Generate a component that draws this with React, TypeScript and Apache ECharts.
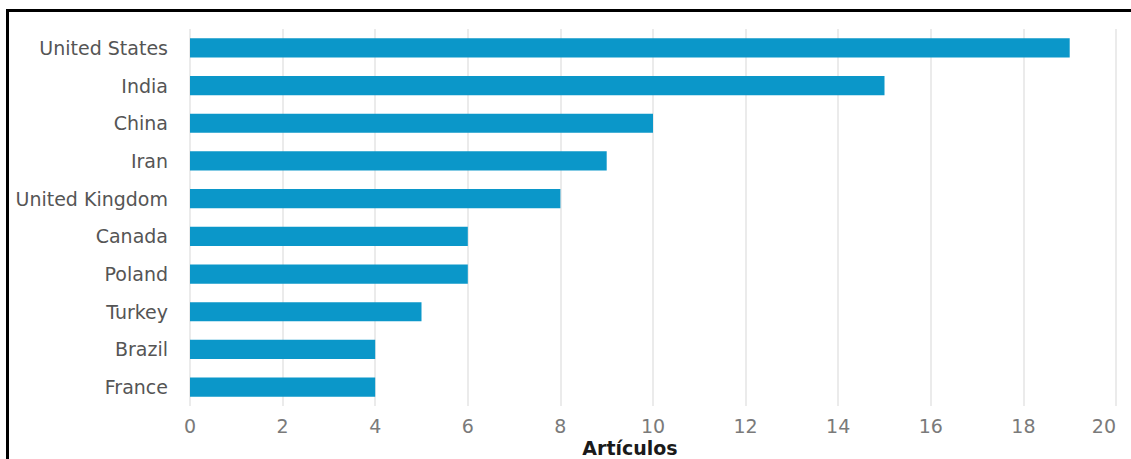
import React, { useEffect, useRef } from "react";
import * as echarts from "echarts";

const countries = [
  "United States",
  "India",
  "China",
  "Iran",
  "United Kingdom",
  "Canada",
  "Poland",
  "Turkey",
  "Brazil",
  "France",
];
const articles = [19, 15, 10, 9, 8, 6, 6, 5, 4, 4];
const axisTitle = "Artículos";

export default function App() {
  const ref = useRef<HTMLDivElement>(null);
  useEffect(() => {
    document.body.style.margin = "0";
    const chart = echarts.init(ref.current!, null, { renderer: "svg" });
    chart.setOption({
      animation: false,
      backgroundColor: "#ffffff",
      grid: { left: 190, right: 15, top: 29, bottom: 53, containLabel: false },
      xAxis: {
        type: "value",
        min: 0,
        max: 20,
        interval: 2,
        axisLine: { show: false },
        axisTick: { show: false },
        splitLine: { show: true, lineStyle: { color: "#e4e4e4", width: 1.5 } },
        axisLabel: {
          color: "#7a7a7a",
          fontSize: 19,
          fontFamily: "DejaVu Sans",
          margin: 10,
          alignMaxLabel: "right",
        },
      },
      yAxis: {
        type: "category",
        inverse: true,
        data: countries,
        axisLine: { show: false },
        axisTick: { show: false },
        axisLabel: {
          color: "#555555",
          fontSize: 19,
          fontFamily: "DejaVu Sans",
          margin: 22,
        },
      },
      series: [
        {
          type: "bar",
          data: articles,
          barCategoryGap: "49%",
          itemStyle: { color: "#0b97c9" },
        },
      ],
      graphic: [
        {
          type: "rect",
          shape: { x: 7.5, y: 10.5, width: 1140, height: 470 },
          style: { fill: "none", stroke: "#000000", lineWidth: 3 },
          silent: true,
        },
        {
          type: "text",
          x: 630,
          y: 438,
          style: {
            text: axisTitle,
            fontSize: 19,
            fontWeight: "bold",
            fontFamily: "DejaVu Sans",
            fill: "#1a1a1a",
            align: "center",
            verticalAlign: "top",
          },
        },
      ],
    });
    return () => chart.dispose();
  }, []);
  return <div ref={ref} style={{ width: 1131, height: 459 }} />;
}
